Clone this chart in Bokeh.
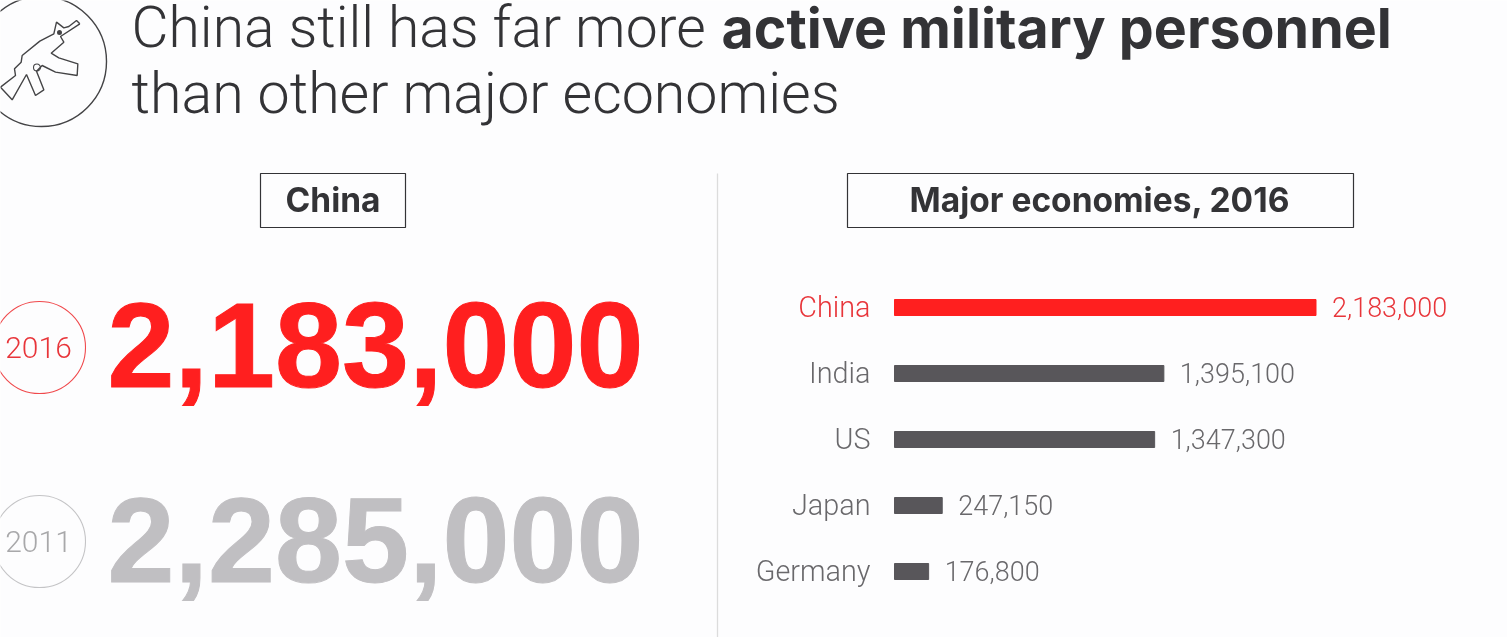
from bokeh.plotting import figure
from bokeh.models import Range1d
from bokeh.core.properties import value
from bokeh.embed import file_html
from bokeh.resources import INLINE

# --- data ---
countries = ["China", "India", "US", "Japan", "Germany"]
personnel = [2183000, 1395100, 1347300, 247150, 176800]
personnel_labels = ["2,183,000", "1,395,100", "1,347,300", "247,150", "176,800"]
ranks = [0, 1, 2, 3, 4]
bar_colors = ["#ff1f1f", "#58565a", "#58565a", "#58565a", "#58565a"]
label_colors = ["#e8353a", "#69686b", "#69686b", "#69686b", "#69686b"]
china_years = ["2016", "2011"]
china_totals = ["2,183,000", "2,285,000"]

W, H = 1507, 637
PER_PX = 2183000 / 421.5
ROW = 66

p = figure(width=W, height=H, output_backend="svg", toolbar_location=None,
           x_range=Range1d(-894 * PER_PX, (W - 894) * PER_PX),
           y_range=Range1d((H - 307) / ROW, -307 / ROW),
           min_border=0, background_fill_color="#fdfdfe", border_fill_color="#fdfdfe",
           outline_line_color=None)
p.styles = {"position": "fixed", "left": "0px", "top": "0px"}
p.xaxis.visible = False
p.yaxis.visible = False
p.grid.visible = False
p.extra_x_ranges["px"] = Range1d(0, W)
p.extra_y_ranges["px"] = Range1d(H, 0)
PX = dict(x_range_name="px", y_range_name="px")

LIGHT = value("Roboto Light")
BODY = value("Inter")
HEAVY = value("Liberation Sans")

# bars
p.hbar(y=ranks, left=0, right=personnel, height=16 / ROW, color=bar_colors)
p.text(x=[0] * 5, y=ranks, text=countries, x_offset=-24, y_offset=-1, text_align="right", text_baseline="middle",
       text_font=LIGHT, text_font_size="28.8px", text_color=label_colors)
p.text(x=personnel, y=ranks, text=personnel_labels, x_offset=16, y_offset=-1, text_align="left", text_baseline="middle",
       text_font=LIGHT, text_font_size="27px", text_color=label_colors)

# title
p.text(x=[131], y=[27], text=["China still has far more"], text_font=LIGHT, text_font_size="57px",
       text_color="#333336", text_baseline="middle", **PX)
p.text(x=[721], y=[27], text=["active military personnel"], text_font=BODY, text_font_style="bold",
       text_font_size="55.5px", text_color="#333336", text_baseline="middle", **PX)
p.text(x=[131], y=[93], text=["than other major economies"], text_font=LIGHT, text_font_size="57.3px",
       text_color="#333336", text_baseline="middle", **PX)

# section headers
p.quad(left=[260, 847], right=[405, 1353], top=[173, 173], bottom=[227, 227],
       fill_color=None, line_color="#333336", line_width=1.2, **PX)
p.text(x=[332.5, 1099.5], y=[199, 199], text=["China", "Major economies, 2016"], text_align="center",
       text_baseline="middle", text_font=BODY, text_font_style="bold", text_font_size="33.5px",
       text_color="#333336", **PX)
p.segment(x0=[717], y0=[173], x1=[717], y1=[637], line_color="#dcdcdc", line_width=1.3, **PX)

# left column
p.scatter(x=[39, 39], y=[347, 541], size=92, marker="circle", fill_color=None,
          line_color=["#f0494c", "#c4c4c6"], line_width=1.1, **PX)
p.text(x=[38, 38], y=[347, 541], text=china_years, text_align="center", text_baseline="middle",
       text_font=LIGHT, text_font_size="30px", text_color=["#e8353a", "#a8a8aa"], **PX)
p.text(x=[107, 107], y=[344, 539], text=china_totals, text_baseline="middle", text_font=HEAVY,
       text_font_style="bold", text_font_size="120.5px", text_color=["#ff1f1f", "#c0bfc2"],
       text_outline_color=["#ff1f1f", "#c0bfc2"], **PX)

# rifle icon
p.scatter(x=[41], y=[61], size=130, marker="circle", fill_color=None, line_color="#444446", line_width=1.4, **PX)
gx = [238, 228, 205, 190, 168, 160, 118, 65, 62, 42, 45, 0, 35, 78, 105, 130, 108, 125, 165, 230, 232, 175, 152, 190, 180, 238]
gy = [70, 60, 78, 82, 65, 100, 122, 165, 185, 205, 225, 260, 298, 222, 285, 268, 212, 195, 215, 225, 190, 172, 158, 125, 108, 70]
p.line(x=[v / 3 for v in gx], y=[v / 3 for v in gy], line_color="#444446", line_width=1.4, **PX)
p.scatter(x=[36.5], y=[67], size=7, marker="circle", fill_color=None, line_color="#444446", line_width=1.1, **PX)
p.scatter(x=[59], y=[32], size=5, marker="circle", fill_color="#444446", line_color=None, **PX)

open("out.html", "w").write(file_html(p, INLINE))
